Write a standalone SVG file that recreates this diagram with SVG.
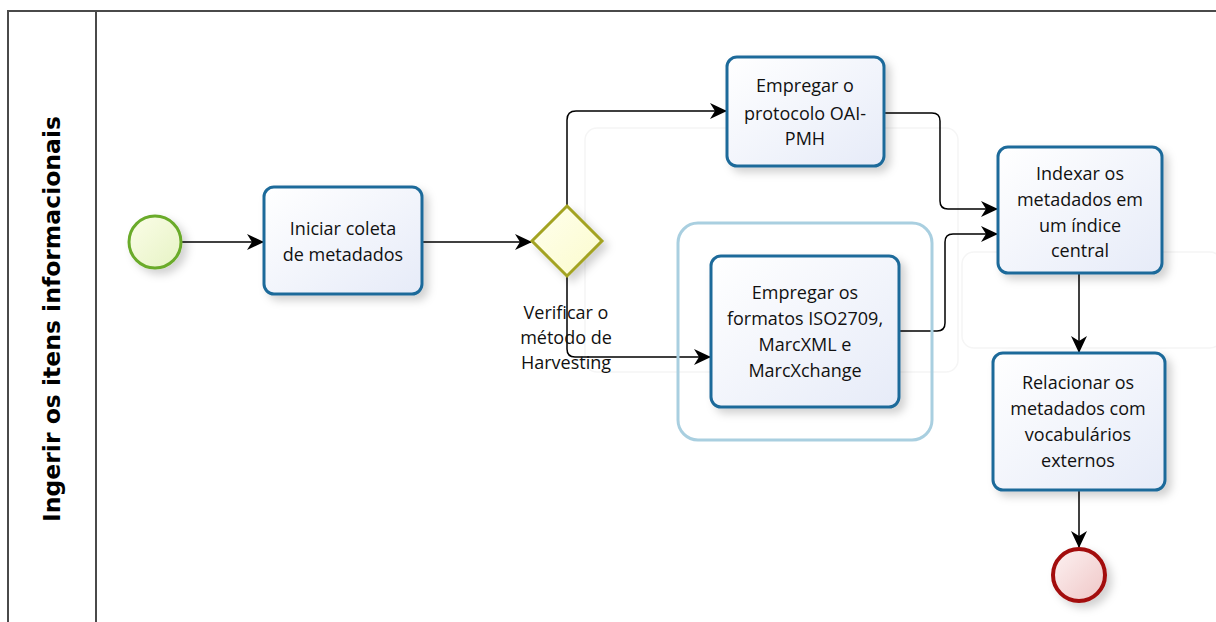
<svg xmlns="http://www.w3.org/2000/svg" width="1216" height="622" viewBox="0 0 1216 622">
  <defs>
    <linearGradient id="taskFill" x1="0" y1="0" x2="1" y2="1">
      <stop offset="0" stop-color="#ffffff"/>
      <stop offset="1" stop-color="#e6ebf8"/>
    </linearGradient>
    <linearGradient id="startFill" x1="0" y1="0" x2="1" y2="1">
      <stop offset="0" stop-color="#fbfde8"/>
      <stop offset="1" stop-color="#e6f3c4"/>
    </linearGradient>
    <linearGradient id="endFill" x1="0" y1="0" x2="1" y2="1">
      <stop offset="0" stop-color="#fdf2f2"/>
      <stop offset="1" stop-color="#efc6c6"/>
    </linearGradient>
    <linearGradient id="gwFill" x1="0" y1="0" x2="1" y2="1">
      <stop offset="0" stop-color="#ffffee"/>
      <stop offset="1" stop-color="#fbfbcc"/>
    </linearGradient>
    <filter id="shadow" x="-20%" y="-20%" width="150%" height="150%">
      <feDropShadow dx="5" dy="5" stdDeviation="4" flood-color="#000000" flood-opacity="0.18"/>
    </filter>
    <marker id="arrow" markerWidth="18" markerHeight="18" refX="16" refY="9" orient="auto" markerUnits="userSpaceOnUse">
      <path d="M0,1 L17,9 L0,17 L5,9 Z" fill="#000"/>
    </marker>
    <style>
      .lane { fill: none; stroke: #4a4a4a; stroke-width: 2; }
      .ghost { fill: none; stroke: #f5f5f5; stroke-width: 1.5; }
      .task { fill: url(#taskFill); stroke: #1e6a9a; stroke-width: 3; filter: url(#shadow); }
      .flow { fill: none; stroke: #000; stroke-width: 1.5; marker-end: url(#arrow); }
      .label { font-family: "Open Sans", "DejaVu Sans", sans-serif; font-size: 18px; fill: #111; text-anchor: middle; }
      .laneLabel { font-family: "DejaVu Sans", "Liberation Sans", sans-serif; font-weight: bold; font-size: 23.5px; fill: #000; text-anchor: middle; }
    </style>
  </defs>

  <rect width="1216" height="622" fill="#ffffff"/>

  <!-- pool / lane -->
  <g id="lane">
    <path class="lane" d="M8,622 L8,11 L1216,11"/>
    <line class="lane" x1="96" y1="11" x2="96" y2="622"/>
    <text class="laneLabel" transform="translate(60,319) rotate(-90)">Ingerir os itens informacionais</text>
  </g>

  <!-- faint background outlines -->
  <g id="ghosts">
    <rect class="ghost" x="585" y="128" width="373" height="244" rx="12"/>
    <rect class="ghost" x="962" y="252" width="260" height="96" rx="12"/>
  </g>

  <!-- connectors -->
  <g id="connectors">
    <line class="flow" x1="181" y1="242" x2="263" y2="242"/>
    <line class="flow" x1="422" y1="242" x2="531" y2="242"/>
    <path class="flow" d="M567,206 L567,120 Q567,111 576,111 L726,111"/>
    <path class="flow" d="M567,276 L567,349 Q567,357 575,357 L710,357"/>
    <path class="flow" d="M884,113 L932,113 Q940,113 940,121 L940,201 Q940,209 948,209 L997,209"/>
    <path class="flow" d="M899,331 L937,331 Q945,331 945,323 L945,242 Q945,234 953,234 L997,234"/>
    <line class="flow" x1="1079" y1="273" x2="1079" y2="352"/>
    <line class="flow" x1="1079" y1="490" x2="1079" y2="547"/>
  </g>

  <!-- start event -->
  <g id="start">
    <circle cx="155" cy="242" r="26" fill="url(#startFill)" stroke="#6aab2a" stroke-width="3" filter="url(#shadow)"/>
  </g>

  <!-- task: Iniciar coleta de metadados -->
  <g id="task-iniciar">
    <rect class="task" x="264" y="187" width="158" height="107" rx="10"/>
    <text class="label" x="343" y="235">Iniciar coleta</text>
    <text class="label" x="343" y="261">de metadados</text>
  </g>

  <!-- gateway -->
  <g id="gateway">
    <polygon points="567,206 602,241 567,276 532,241" fill="url(#gwFill)" stroke="#a3a321" stroke-width="3" filter="url(#shadow)"/>
    <text class="label" x="566" y="319">Verificar o</text>
    <text class="label" x="566" y="344">método de</text>
    <text class="label" x="566" y="369">Harvesting</text>
  </g>

  <!-- task: OAI-PMH -->
  <g id="task-oai">
    <rect class="task" x="727" y="57" width="157" height="109" rx="10"/>
    <text class="label" x="805" y="92">Empregar o</text>
    <text class="label" x="805" y="120">protocolo OAI-</text>
    <text class="label" x="805" y="145">PMH</text>
  </g>

  <!-- task: ISO2709 / MarcXML / MarcXchange (selected) -->
  <g id="task-marc">
    <rect x="678" y="223" width="254" height="217" rx="20" fill="none" stroke="#a9cfe0" stroke-width="3"/>
    <rect class="task" x="711" y="256" width="188" height="151" rx="10"/>
    <text class="label" x="805" y="299">Empregar os</text>
    <text class="label" x="805" y="325">formatos ISO2709,</text>
    <text class="label" x="805" y="351">MarcXML e</text>
    <text class="label" x="805" y="377">MarcXchange</text>
  </g>

  <!-- task: Indexar -->
  <g id="task-indexar">
    <rect class="task" x="998" y="147" width="164" height="126" rx="10"/>
    <text class="label" x="1080" y="180">Indexar os</text>
    <text class="label" x="1080" y="206">metadados em</text>
    <text class="label" x="1080" y="232">um índice</text>
    <text class="label" x="1080" y="257">central</text>
  </g>

  <!-- task: Relacionar -->
  <g id="task-relacionar">
    <rect class="task" x="993" y="353" width="172" height="137" rx="10"/>
    <text class="label" x="1078" y="389">Relacionar os</text>
    <text class="label" x="1078" y="415">metadados com</text>
    <text class="label" x="1078" y="441">vocabulários</text>
    <text class="label" x="1078" y="467">externos</text>
  </g>

  <!-- end event -->
  <g id="end">
    <circle cx="1079" cy="575" r="26" fill="url(#endFill)" stroke="#a30f0f" stroke-width="4" filter="url(#shadow)"/>
  </g>
</svg>
